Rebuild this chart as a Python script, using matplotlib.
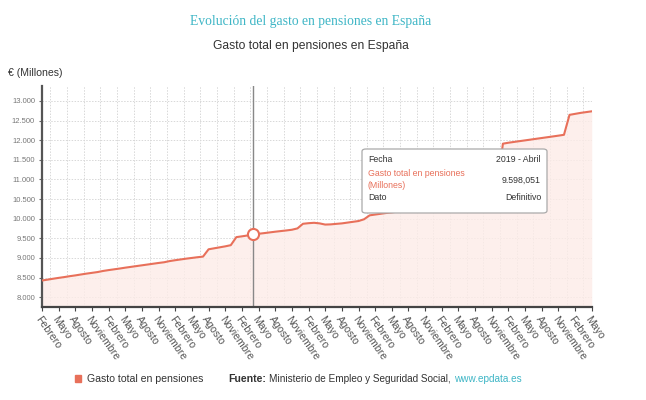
import numpy as np
import matplotlib
matplotlib.use("Agg")
import matplotlib.pyplot as plt
from matplotlib.patches import FancyBboxPatch, Rectangle

plt.rcParams['font.family'] = ['Liberation Sans', 'DejaVu Sans']

# Gasto mensual en pensiones (millones de euros), febrero 2016 - mayo 2024
gasto_2016 = [8425, 8447, 8470, 8492, 8512, 8535, 8555, 8578, 8600, 8620, 8640]
gasto_2017 = [8668, 8690, 8710, 8730, 8752, 8772, 8792, 8812, 8832, 8852, 8872, 8890]
gasto_2018 = [8920, 8942, 8962, 8982, 9000, 9018, 9034, 9220, 9245, 9270, 9295, 9325]
gasto_2019 = [9530, 9550, 9572, 9598.051, 9615, 9632, 9650, 9668, 9684, 9700, 9718, 9752]
gasto_2020 = [9870, 9885, 9895, 9880, 9850, 9855, 9868, 9880, 9900, 9920, 9940, 9985]
gasto_2021 = [10085, 10105, 10125, 10145, 10160, 10180, 10200, 10215, 10230, 10250, 10265, 10280]
gasto_2022 = [10520, 10545, 10565, 10585, 10605, 10625, 10645, 10665, 10685, 10705, 10725, 10745]
gasto_2023 = [11910, 11935, 11955, 11975, 11995, 12015, 12035, 12055, 12075, 12095, 12115, 12137]
gasto_2024 = [12645, 12670, 12695, 12715, 12735]

tick_labels = ["Febrero", "Mayo", "Agosto", "Noviembre"] * 8 + ["Febrero", "Mayo"]
y_ticks = [8000, 8500, 9000, 9500, 10000, 10500, 11000, 11500, 12000, 12500, 13000]

gasto = np.array(gasto_2016 + gasto_2017 + gasto_2018 + gasto_2019 + gasto_2020
                 + gasto_2021 + gasto_2022 + gasto_2023 + gasto_2024)
x = np.arange(len(gasto))
sel = 38  # 2019 - Abril

line_color = '#e8705a'
teal = '#3fb6c6'

fig = plt.figure(figsize=(6.46, 4.0), dpi=100)
ax = fig.add_axes([0.065, 0.2325, 0.851, 0.5525])

ax.set_xlim(0, len(gasto) - 1)
ax.set_ylim(7750, 13380)

# grid
for gx in np.arange(1.5, len(gasto) - 1, 3):
    ax.axvline(gx, color='#d8d8d8', lw=0.7, ls=(0, (1.5, 1.5)), zorder=0)
for gy in y_ticks:
    ax.axhline(gy, color='#d8d8d8', lw=0.7, ls=(0, (1.5, 1.5)), zorder=0)

ax.fill_between(x, gasto, 7750, color='#fdece8', alpha=0.8, lw=0, zorder=1)
ax.plot(x, gasto, color=line_color, lw=1.5, zorder=3)

# cursor
ax.axvline(sel, color='#888888', lw=1, zorder=2)
ax.plot(x[sel], gasto[sel], 'o', ms=8, mfc='white', mec=line_color, mew=1.5, zorder=4)

ax.set_xticks(np.arange(0, len(gasto), 3))
ax.set_xticklabels(tick_labels, rotation=-55, ha='left', va='top',
                   rotation_mode='anchor', fontsize=7.6, color='#555555')
ax.set_yticks(y_ticks)
ax.set_yticklabels([f"{v:,}".replace(",", ".") for v in y_ticks], fontsize=5.5, color='#777777')
ax.tick_params(axis='x', length=3, color='#444444', pad=2)
ax.tick_params(axis='y', length=2, color='#666666', pad=3)

for s in ['top', 'right']:
    ax.spines[s].set_visible(False)
ax.spines['left'].set_color('#555555')
ax.spines['left'].set_linewidth(1.6)
ax.spines['bottom'].set_color('#444444')
ax.spines['bottom'].set_linewidth(1.6)

# tooltip
tip = FancyBboxPatch((362 / 646, 1 - 213 / 400), 185 / 646, 64 / 400,
                     boxstyle='round,pad=0,rounding_size=0.006', transform=fig.transFigure,
                     facecolor='white', edgecolor='#aaaaaa', lw=0.9, zorder=10)
fig.patches.append(tip)
fs = 6.3
fig.text(368 / 646, 1 - 160 / 400, "Fecha", fontsize=fs, color='#333333', va='center', zorder=11)
fig.text(541 / 646, 1 - 160 / 400, "2019 - Abril", fontsize=fs, color='#333333', va='center', ha='right', zorder=11)
fig.text(368 / 646, 1 - 173 / 400, "Gasto total en pensiones", fontsize=fs, color=line_color, va='center', zorder=11)
fig.text(368 / 646, 1 - 185 / 400, "(Millones)", fontsize=fs, color=line_color, va='center', zorder=11)
fig.text(541 / 646, 1 - 180 / 400, "9.598,051", fontsize=fs, color='#333333', va='center', ha='right', zorder=11)
fig.text(368 / 646, 1 - 198 / 400, "Dato", fontsize=fs, color='#333333', va='center', zorder=11)
fig.text(541 / 646, 1 - 198 / 400, "Definitivo", fontsize=fs, color='#333333', va='center', ha='right', zorder=11)

# titles
fig.text(311 / 646, 1 - 22 / 400, "Evolución del gasto en pensiones en España", family='Liberation Serif',
         fontsize=9.8, color=teal, ha='center', va='center')
fig.text(311 / 646, 1 - 46 / 400, "Gasto total en pensiones en España", fontsize=8.7,
         color='#333333', ha='center', va='center')
fig.text(8 / 646, 1 - 73 / 400, "€ (Millones)", fontsize=7.6, color='#333333', va='center')

# legend / source, placed one after another
fig.patches.append(Rectangle((75 / 646, 1 - 382 / 400), 6 / 646, 7 / 400,
                             transform=fig.transFigure, color=line_color))
renderer = fig.canvas.get_renderer()
pieces = [("Gasto total en pensiones", '#333333', 'normal', 7.6, 25),
          ("Fuente:", '#333333', 'bold', 7.6, 3),
          ("Ministerio de Empleo y Seguridad Social,", '#333333', 'normal', 7.2, 3),
          ("www.epdata.es", teal, 'normal', 7.2, 0)]
xpos = 87
for txt, col, wt, size, gap in pieces:
    t = fig.text(xpos / 646, 1 - 379 / 400, txt, fontsize=size, color=col, weight=wt, va='center')
    w = t.get_window_extent(renderer=renderer).width
    xpos += w + gap

fig.savefig("out.png", dpi=100)
